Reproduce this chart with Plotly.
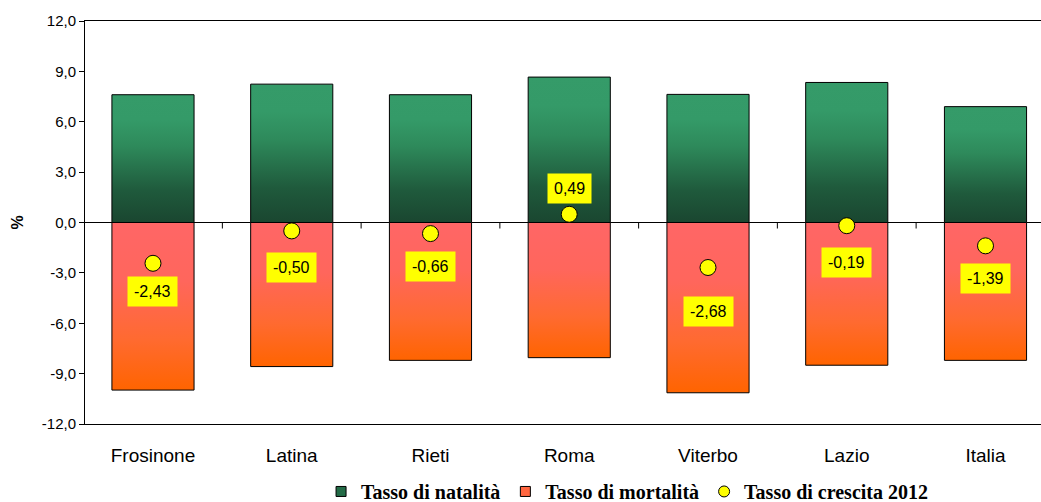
import plotly.graph_objects as go

# Birth, death and natural growth rates (per 1000 inhabitants), 2012
province = ["Frosinone", "Latina", "Rieti", "Roma", "Viterbo", "Lazio", "Italia"]
natalita = [7.61, 8.24, 7.61, 8.66, 7.63, 8.34, 6.90]
mortalita = [-9.98, -8.58, -8.21, -8.05, -10.14, -8.50, -8.21]
crescita = [-2.43, -0.50, -0.66, 0.49, -2.68, -0.19, -1.39]

y_ticks = [-12, -9, -6, -3, 0, 3, 6, 9, 12]
y_tick_labels = ["-12,0", "-9,0", "-6,0", "-3,0", "0,0", "3,0", "6,0", "9,0", "12,0"]

# vertical offset (px) of each value label from its marker
label_shift = [-28, -37, -33, 26, -44, -37, -33]

half_w = 0.296
green_scale = [[0.0, "#1a4630"], [0.25, "#1f5a3c"], [0.6, "#2e8a5b"], [0.8, "#349a68"], [1.0, "#359b69"]]
red_scale = [[0.0, "#ff6400"], [0.3, "#ff6a30"], [0.65, "#ff665c"], [1.0, "#ff6666"]]

fig = go.Figure()


def add_bar(i, value, scale):
    xs = [i - half_w, i + half_w, i + half_w, i - half_w, i - half_w]
    ys = [0, 0, value, value, 0]
    fig.add_trace(go.Scatter(
        x=xs, y=ys, mode="lines", fill="toself",
        fillgradient=dict(type="vertical", colorscale=scale),
        line=dict(color="#000000", width=1),
        showlegend=False, hoverinfo="skip",
    ))


for i, v in enumerate(natalita):
    add_bar(i, v, green_scale)
for i, v in enumerate(mortalita):
    add_bar(i, v, red_scale)

# growth markers
fig.add_trace(go.Scatter(
    x=list(range(len(province))), y=crescita, mode="markers",
    marker=dict(size=16, color="#ffff00", line=dict(color="#000000", width=1)),
    showlegend=False, hoverinfo="skip",
))

# legend entries
fig.add_trace(go.Scatter(x=[None], y=[None], mode="markers", name="Tasso di natalità",
                         marker=dict(symbol="square", size=10, color="#236b47",
                                     line=dict(color="#000000", width=1))))
fig.add_trace(go.Scatter(x=[None], y=[None], mode="markers", name="Tasso di mortalità",
                         marker=dict(symbol="square", size=10, color="#ff6640",
                                     line=dict(color="#000000", width=1))))
fig.add_trace(go.Scatter(x=[None], y=[None], mode="markers", name="Tasso di crescita 2012",
                         marker=dict(symbol="circle", size=11, color="#ffff00",
                                     line=dict(color="#000000", width=1))))

# value labels
for i, (v, s) in enumerate(zip(crescita, label_shift)):
    fig.add_annotation(
        x=i, y=v, text=f"{v:.2f}".replace(".", ","), showarrow=False,
        yshift=s, bgcolor="#ffff00", borderpad=6,
        font=dict(family="Liberation Sans, Arial", size=16, color="#000000"),
    )

# small tick marks on the zero line between categories
for k in range(len(province) - 1):
    fig.add_shape(type="line", xref="x", yref="y", x0=k + 0.5, x1=k + 0.5,
                  ysizemode="pixel", yanchor=0, y0=0, y1=-6,
                  line=dict(color="#000000", width=1))

fig.update_layout(
    width=1041, height=502,
    margin=dict(l=85, r=0, t=21, b=78, autoexpand=False),
    paper_bgcolor="#ffffff", plot_bgcolor="#ffffff",
    font=dict(family="Liberation Sans, Arial", color="#000000"),
    legend=dict(
        orientation="h", x=0.567, xanchor="center", y=-0.119, yanchor="top",
        font=dict(family="Liberation Serif, Times New Roman", size=20, color="#000000",
                  weight="bold"),
        itemsizing="trace", itemwidth=30, tracegroupgap=0,
    ),
)

fig.update_xaxes(
    range=[-0.49, 6.4], tickmode="array", tickvals=list(range(len(province))),
    ticktext=province, ticks="", showgrid=False, zeroline=False,
    showline=True, linecolor="#000000", linewidth=1, mirror=True,
    tickfont=dict(size=19, color="#000000"), ticklabelstandoff=14,
)
fig.update_yaxes(
    range=[-12, 12], tickmode="array", tickvals=y_ticks, ticktext=y_tick_labels,
    ticks="outside", ticklen=5, tickcolor="#000000",
    showgrid=False, zeroline=True, zerolinecolor="#000000", zerolinewidth=1,
    showline=True, linecolor="#000000", linewidth=1,
    tickfont=dict(size=15, color="#000000"),
    title=dict(text="<b>%</b>", font=dict(size=16, color="#000000"), standoff=14),
)

fig.write_html("out.html")
